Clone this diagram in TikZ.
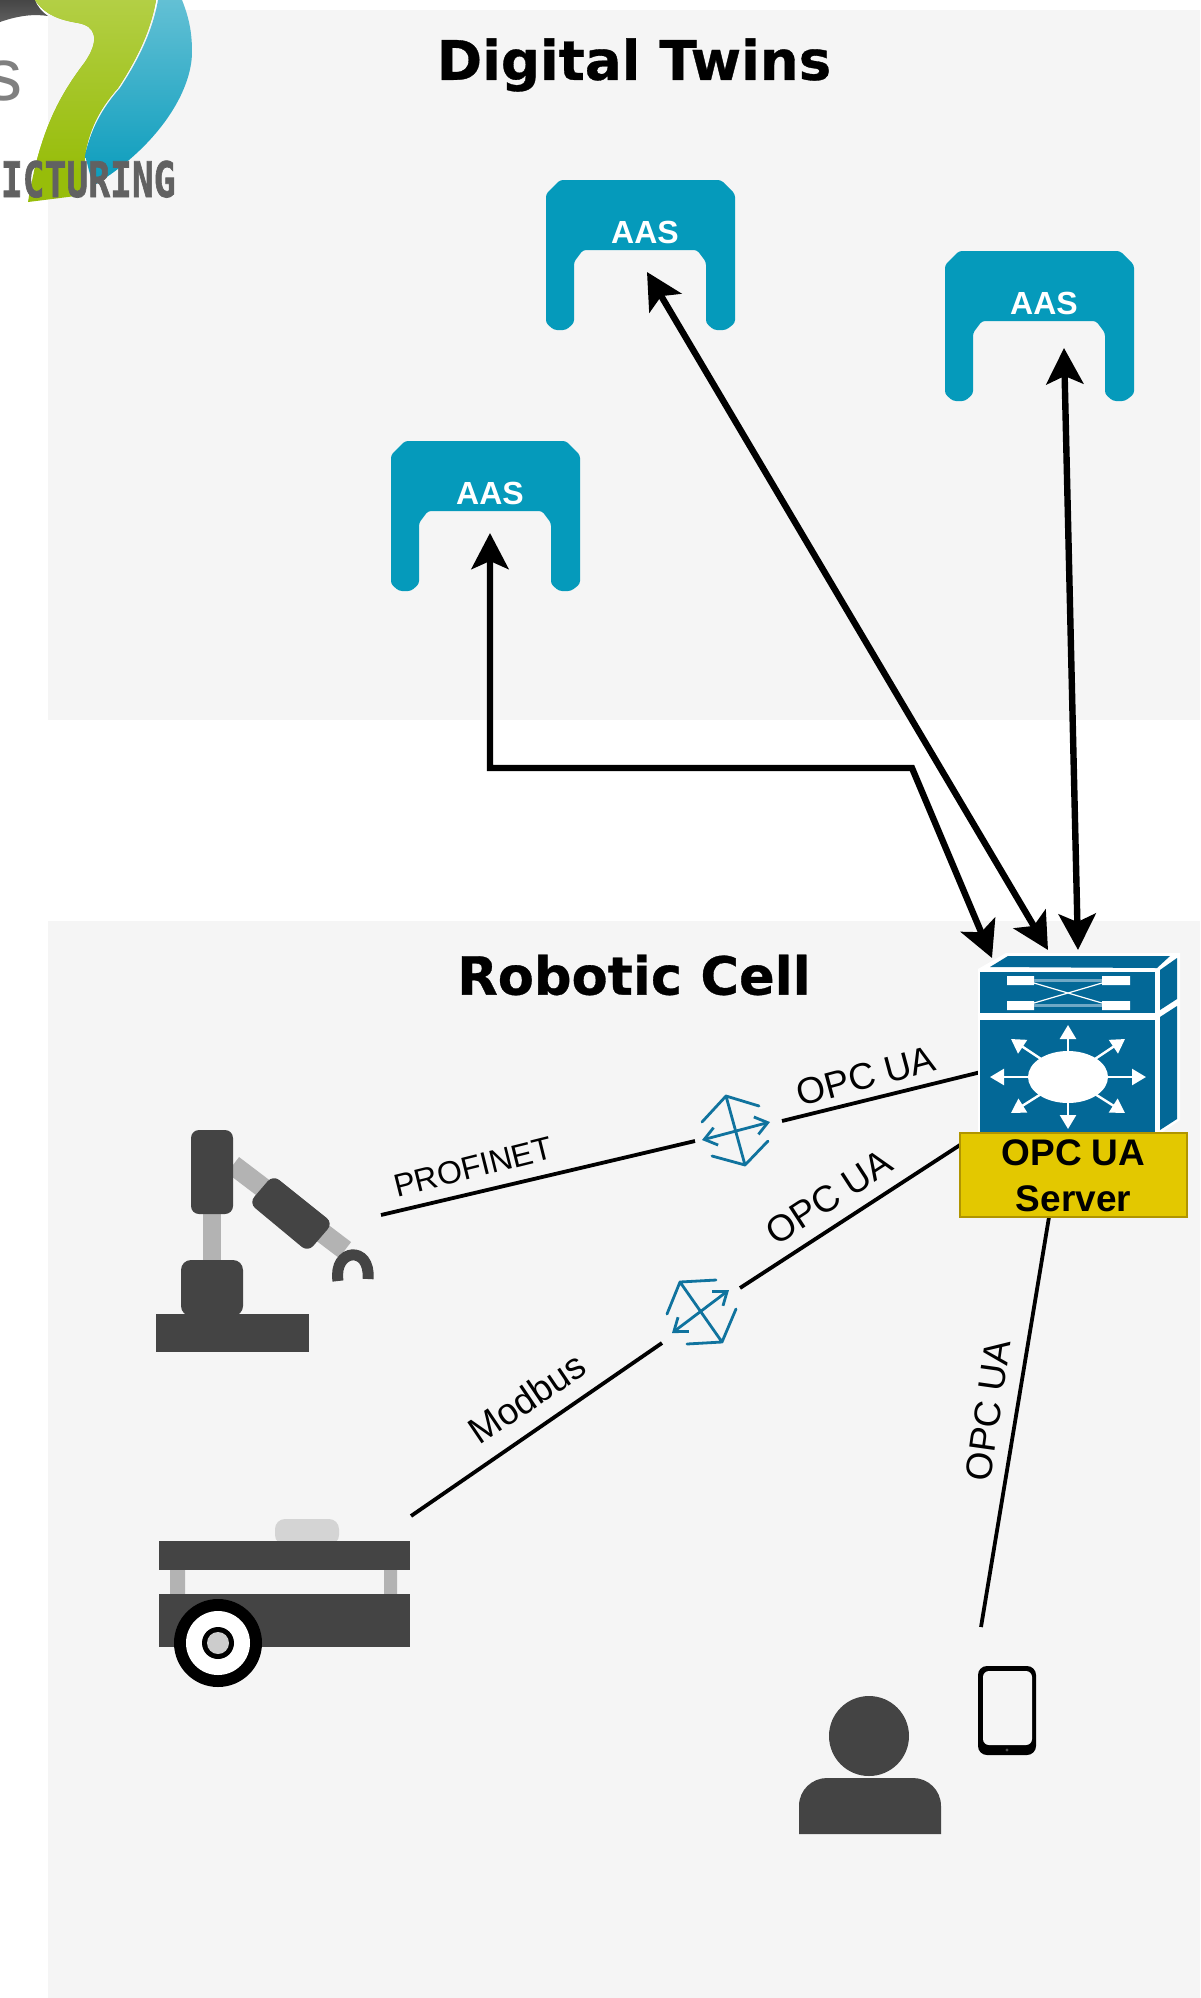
\documentclass[tikz,border=0pt]{standalone}
\usepackage{fontspec}
\setmainfont{Liberation Sans}
\newfontfamily\titlefont{DejaVu Sans}
\newfontfamily\logofont{DejaVu Sans Mono}
\usetikzlibrary{arrows.meta}
\definecolor{panelbg}{HTML}{F5F5F5}
\definecolor{aasblue}{HTML}{059ABB}
\definecolor{swblue}{HTML}{036897}
\definecolor{swlight}{HTML}{6FA8C5}
\definecolor{darkg}{HTML}{444444}
\definecolor{midg}{HTML}{B3B3B3}
\definecolor{srvfill}{HTML}{E3C800}
\definecolor{srvline}{HTML}{B09500}
\definecolor{relayc}{HTML}{10739E}
\definecolor{greenB}{HTML}{97BD0A}
\definecolor{greenA}{HTML}{BCD558}
\tikzset{
  panel/.style={fill=panelbg,draw=none},
  paneltitle/.style={font=\titlefont\bfseries\fontsize{27.3}{31}\selectfont\addfontfeature{FakeBold=0.6},text=black,inner sep=0pt},
  bigarrow/.style={draw=black,line width=3.2pt,{Stealth[length=18pt,width=18.5pt,inset=4pt]}-{Stealth[length=18pt,width=18.5pt,inset=4pt]}},
  link/.style={draw=black,line width=1.9pt},
  linklabel/.style={font=\fontsize{18.5}{22}\selectfont,inner sep=0pt,text=black},
  relay/.style={draw=relayc,line width=1.4pt,line cap=round,line join=round},
  relayarrow/.style={relay,{Straight Barb[length=6pt,width=9pt]}-{Straight Barb[length=6pt,width=9pt]}},
  dark/.style={fill=darkg,draw=none},
  gray/.style={fill=midg,draw=none},
  swfill/.style={fill=swblue,draw=none},
  swarrow/.style={draw=white,line width=1.2pt,-{Triangle[length=7pt,width=8pt]}},
  aasicon/.pic={
    \fill[aasblue,rounded corners=1.5pt] (0,14)--(14,0)--(175,0)--(189,14)--(189,143)--(180,150)--(168,150)--(160,143)--(160,82)--(151,70)--(37,70)--(28,82)--(28,143)--(20,150)--(8,150)--(0,143)--cycle;
    \node[font=\bfseries\fontsize{16}{18}\selectfont,text=white,inner sep=0pt] (-label) at (99,52) {AAS};
  }
}
\begin{document}
\begin{tikzpicture}[x=0.5pt,y=-0.5pt]
\useasboundingbox (0,0) rectangle (1200,1998);
\fill[white] (0,0) rectangle (1200,1998);
% panels
\path[panel] (48,10) rectangle (1200,720);
\path[panel] (48,921) rectangle (1200,1998);
\node[paneltitle] (twinsTitle) at (634,65) {Digital Twins};
\node[paneltitle,font=\titlefont\bfseries\fontsize{26.3}{31}\selectfont\addfontfeature{FakeBold=0.6}] (cellTitle) at (634,975) {Robotic Cell};
% logo
\begin{scope}
  \clip (0,22) .. controls (20,15) and (35,14) .. (48,16) .. controls (42,12) and (37,6) .. (35,0) -- (0,0) -- cycle;
  \shade[top color=black!75,bottom color=black!60] (0,-5) rectangle (60,28);
\end{scope}
\node[font=\fontsize{37}{40}\selectfont,text=black!50,inner sep=0pt,anchor=base east] (logoS) at (23,100) {s};
\begin{scope}
  \clip (182,0) .. controls (190,20) and (192,35) .. (192,52) .. controls (192,90) and (160,145) .. (93,186) -- (85,155) .. controls (92,125) and (105,105) .. (120,88) .. controls (135,65) and (152,35) .. (158,0) -- cycle;
  \shade[top color=aasblue!50!white,bottom color=aasblue] (50,-65) rectangle (200,195);
\end{scope}
\begin{scope}
  \clip (35,0) .. controls (45,15) and (60,20) .. (78,23) .. controls (96,26) and (100,40) .. (85,62) .. controls (60,95) and (40,130) .. (28,202) -- (60,198) -- (83,195) -- (85,155) .. controls (90,125) and (103,105) .. (118,88) .. controls (133,65) and (150,35) .. (156,0) -- cycle;
  \fill[greenB] (20,0) rectangle (170,210);
  \shade[top color=greenA,bottom color=greenB] (20,-57) rectangle (170,172);
\end{scope}
\node[font=\logofont\bfseries\fontsize{24.5}{26}\selectfont\addfontfeature{FakeBold=1.5},text=black!62,inner sep=0pt,anchor=base east] (logoText) at (176,197) {\scalebox{.74}[1]{ICTURING}};
% connector end points
\coordinate (aasAend) at (647,272);
\coordinate (aasBend) at (1064,348);
\coordinate (aasCend) at (490,533);
\coordinate (bendA) at (490,768);
\coordinate (bendB) at (912,768);
\coordinate (srvA) at (992,958);
\coordinate (srvB) at (1048,950);
\coordinate (srvC) at (1078,950);
\coordinate (robotEnd) at (381,1215);
\coordinate (relayAin) at (695,1141);
\coordinate (relayAout) at (782,1121);
\coordinate (switchIn) at (981,1072);
\coordinate (agvEnd) at (411,1516);
\coordinate (relayBin) at (662,1343);
\coordinate (relayBout) at (740,1288);
\coordinate (serverW) at (960,1145);
\coordinate (serverS) at (1049,1217);
\coordinate (tabletEnd) at (981,1627);
% connectors
\draw[link] (robotEnd) -- (relayAin);
\draw[link] (relayAout) -- (switchIn);
\draw[link] (agvEnd) -- (relayBin);
\draw[link] (relayBout) -- (serverW);
\draw[link] (serverS) -- (tabletEnd);
\node[linklabel,font=\fontsize{16}{20}\selectfont,rotate=14] (lblProfinet) at (473,1167) {PROFINET};
\node[linklabel,rotate=15] (lblOpcA) at (866,1076) {OPC UA};
\node[linklabel,rotate=33] (lblOpcB) at (829,1197) {OPC UA};
\node[linklabel,rotate=34] (lblModbus) at (527,1398) {Modbus};
\node[linklabel,rotate=82] (lblOpcC) at (988,1410) {OPC UA};
% AAS icons
\pic (aasA) at (546,180) {aasicon};
\pic (aasB) at (945,251) {aasicon};
\pic (aasC) at (391,441) {aasicon};
% switch
\fill[white] (978,969)--(1006,953)--(1180,953)--(1180,1120)--(1158,1135)--(978,1135)--cycle;
\path[swfill] (990,967)--(1008,956)--(1170,956)--(1157,968)--cycle;
\path[swfill] (980,972) rectangle (1155,1013);
\path[swfill] (980,1020) rectangle (1155,1133);
\path[swfill] (1160,970)--(1177,958)--(1177,999)--(1160,1010)--cycle;
\path[swfill] (1160,1017)--(1177,1006)--(1177,1119)--(1160,1130)--cycle;
\fill[white] (1007,976) rectangle (1034,985) (1102,976) rectangle (1130,985) (1007,1001) rectangle (1034,1010) (1102,1001) rectangle (1130,1010);
\draw[swlight,line width=1.5pt] (1034,980.5) -- (1102,980.5) (1034,1005.5) -- (1102,1005.5);
\draw[white,line width=.6pt] (1034,983) -- (1102,1003) (1034,1003) -- (1102,983);
\fill[white] (1068,1077) ellipse [x radius=40,y radius=26];
\coordinate (swc) at (1068,1077);
\foreach \tx/\ty in {990/1077,1146/1077,1068/1025,1068/1129,1011/1039,1125/1039,1011/1113,1125/1113}
  \draw[swarrow] (swc) -- (\tx,\ty);
\node[draw=srvline,fill=srvfill,line width=.6pt,minimum width=113.5pt,minimum height=42pt,inner sep=0pt] (server) at (1073.5,1175) {};
\node[inner sep=0pt,align=center,font=\bfseries\fontsize{18.5}{23}\selectfont] (serverLabel) at (1073.5,1176) {OPC UA\\Server};
% big arrows
\draw[bigarrow] (aasAend) -- (srvB);
\draw[bigarrow] (aasBend) -- (srvC);
\draw[bigarrow,line join=miter] (aasCend) -- (bendA) -- (bendB) -- (srvA);
% relays
\draw[relay] (702,1122)--(726,1096)--(759,1106) (726,1096)--(745,1165) (712,1156)--(745,1165)--(768,1141);
\draw[relayarrow] (702,1140)--(770,1122);
\draw[relay] (667,1314)--(680,1282)--(716,1280) (680,1282)--(722,1342) (687,1344)--(722,1342)--(736,1309);
\draw[relayarrow] (672,1333)--(729,1290);
% robot
\draw[midg,line width=9pt] (212,1213)--(212,1262);
\draw[midg,line width=10pt] (233,1165)--(345,1250);
\path[dark] (156,1314) rectangle (309,1352);
\path[dark,rounded corners=5pt] (181,1316)--(181,1260)--(243,1260)--(243,1316)--cycle;
\path[dark,rounded corners=4pt] (191,1130) rectangle (233,1214);
\path[dark,rounded corners=4pt] (273,1175)--(333,1223)--(308,1252)--(249,1203)--cycle;
\draw[darkg,line width=5.5pt] (338,1281) .. controls (333,1248) and (371,1245) .. (368,1279);
% AGV
\path[fill=black!17,rounded corners=5pt] (275,1545)--(275,1519)--(339,1519)--(339,1545)--cycle;
\path[gray] (170,1570) rectangle (185,1594) (384,1570) rectangle (397,1594);
\path[dark] (159,1541) rectangle (410,1570);
\path[dark] (159,1594) rectangle (410,1647);
\fill[black] (218,1643) circle (44);
\fill[white] (218,1643) circle (32);
\fill[black] (218,1643) circle (16);
\fill[black!20] (218,1643) circle (11);
% person
\path[dark] (869,1736) circle (40);
\path[dark] (799,1834) -- (799,1806) .. controls (799,1790) and (812,1778) .. (827,1778) -- (913,1778) .. controls (928,1778) and (941,1790) .. (941,1806) -- (941,1834) -- cycle;
% tablet
\fill[black,rounded corners=4.5pt] (978,1666) rectangle (1036,1755);
\fill[panelbg,rounded corners=3pt] (983,1671) rectangle (1032,1745);
\fill[black!70] (1007,1750) circle (1.6);
\end{tikzpicture}
\end{document}
